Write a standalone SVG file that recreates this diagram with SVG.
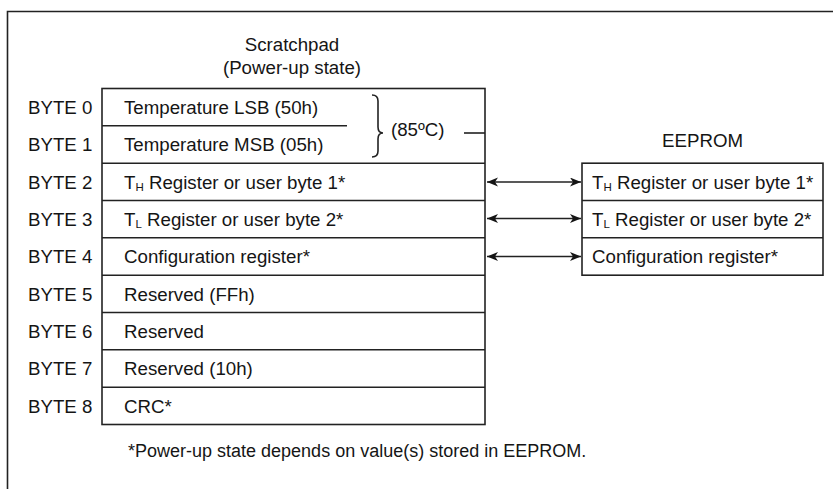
<svg xmlns="http://www.w3.org/2000/svg" width="833" height="489" viewBox="0 0 833 489">
<defs>
<style>
text{font-family:"Liberation Sans",Arial,sans-serif;font-size:18.7px;fill:#151515}
.ln{stroke:#222;stroke-width:1.6;fill:none}
.sub{font-size:11.5px}
.c{text-anchor:middle}
.fn{font-size:18px}
</style>
<marker id="ah" markerUnits="userSpaceOnUse" markerWidth="13" markerHeight="10" refX="11" refY="4.5" orient="auto-start-reverse">
<path d="M0,0 L11,4.5 L0,9 L3,4.5 z" fill="#151515"/>
</marker>
</defs>
<rect width="833" height="489" fill="#fff"/>
<path class="ln" d="M7.5,489 V11.5 H833"/>

<g id="scratchpad">
<text class="c" x="292" y="51">Scratchpad</text>
<text class="c" x="292" y="74">(Power-up state)</text>
<rect class="ln" x="102" y="88.5" width="383" height="336"/>
<line class="ln" x1="102" y1="125.8" x2="347" y2="125.8"/>
<line class="ln" x1="102" y1="163.2" x2="485" y2="163.2"/>
<line class="ln" x1="102" y1="200.5" x2="485" y2="200.5"/>
<line class="ln" x1="102" y1="237.8" x2="485" y2="237.8"/>
<line class="ln" x1="102" y1="275.2" x2="485" y2="275.2"/>
<line class="ln" x1="102" y1="312.5" x2="485" y2="312.5"/>
<line class="ln" x1="102" y1="349.8" x2="485" y2="349.8"/>
<line class="ln" x1="102" y1="387.2" x2="485" y2="387.2"/>
</g>

<g id="byte-labels">
<text x="28" y="114">BYTE 0</text>
<text x="28" y="151.3">BYTE 1</text>
<text x="28" y="188.7">BYTE 2</text>
<text x="28" y="226">BYTE 3</text>
<text x="28" y="263.3">BYTE 4</text>
<text x="28" y="300.7">BYTE 5</text>
<text x="28" y="338">BYTE 6</text>
<text x="28" y="375.3">BYTE 7</text>
<text x="28" y="412.7">BYTE 8</text>
</g>

<g id="byte0"><text x="124" y="114">Temperature LSB (50h)</text></g>
<g id="byte1"><text x="124" y="151.3">Temperature MSB (05h)</text></g>
<g id="temp-brace">
<path class="ln" d="M372,95 Q378,95 378,101 V127 Q378,133 383,133 Q378,133 378,139 V151 Q378,157 372,157"/>
<text x="391" y="136">(85ºC)</text>
<line class="ln" x1="464" y1="133" x2="485" y2="133"/>
</g>
<g id="byte2"><text x="124" y="188.7">T<tspan class="sub" dy="2">H</tspan><tspan dy="-2"> Register or user byte 1*</tspan></text></g>
<g id="byte3"><text x="124" y="226">T<tspan class="sub" dy="2">L</tspan><tspan dy="-2"> Register or user byte 2*</tspan></text></g>
<g id="byte4"><text x="124" y="263.3">Configuration register*</text></g>
<g id="byte5"><text x="124" y="300.7">Reserved (FFh)</text></g>
<g id="byte6"><text x="124" y="338">Reserved</text></g>
<g id="byte7"><text x="124" y="375.3">Reserved (10h)</text></g>
<g id="byte8"><text x="124" y="412.7">CRC*</text></g>

<g id="eeprom">
<text class="c" x="702.5" y="147">EEPROM</text>
<rect class="ln" x="582" y="163.2" width="241" height="112"/>
<line class="ln" x1="582" y1="200.5" x2="823" y2="200.5"/>
<line class="ln" x1="582" y1="237.8" x2="823" y2="237.8"/>
<text x="592" y="188.7">T<tspan class="sub" dy="2">H</tspan><tspan dy="-2"> Register or user byte 1*</tspan></text>
<text x="592" y="226">T<tspan class="sub" dy="2">L</tspan><tspan dy="-2"> Register or user byte 2*</tspan></text>
<text x="592" y="263.3">Configuration register*</text>
</g>

<g id="connectors">
<line class="ln" x1="487" y1="182" x2="581" y2="182" marker-start="url(#ah)" marker-end="url(#ah)"/>
<line class="ln" x1="487" y1="218.5" x2="581" y2="218.5" marker-start="url(#ah)" marker-end="url(#ah)"/>
<line class="ln" x1="487" y1="256.5" x2="581" y2="256.5" marker-start="url(#ah)" marker-end="url(#ah)"/>
</g>

<g id="footnote"><text class="fn" x="128" y="457">*Power-up state depends on value(s) stored in EEPROM.</text></g>
</svg>
